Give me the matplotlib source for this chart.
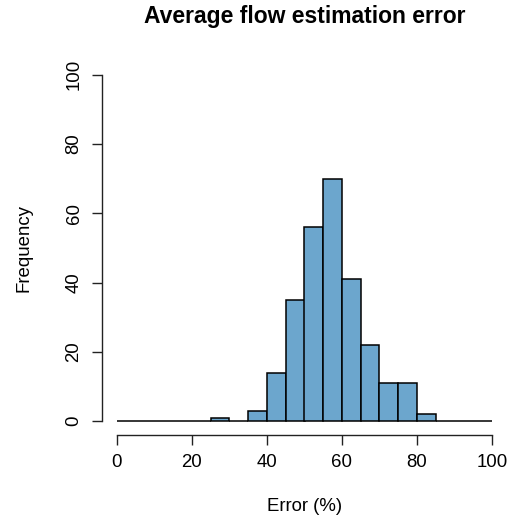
import numpy as np
from matplotlib import pyplot as plt

# histogram bins (5% wide) and counts
bin_edges = np.arange(0, 105, 5)
counts = [0, 0, 0, 0, 0, 1, 0, 3, 14, 35, 56, 70, 41, 22, 11, 11, 2, 0, 0, 0]
x_ticks = [0, 20, 40, 60, 80, 100]
y_ticks = [0, 20, 40, 60, 80, 100]

plt.rcParams['font.family'] = ['Liberation Sans', 'DejaVu Sans']

W, H = 514, 529
fig = plt.figure(figsize=(W / 100, H / 100), dpi=100)
ax = fig.add_axes([102 / W, (H - 435) / H, (507 - 102) / W, (435 - 61) / H])

ax.bar(bin_edges[:-1], counts, width=5, align='edge',
       color='#6CA6CD', edgecolor='black', linewidth=1.1)

ax.set_xlim(-4, 104)
ax.set_ylim(-4, 104)
for s in ['top', 'right']:
    ax.spines[s].set_visible(False)
ax.spines['left'].set_bounds(0, 100)
ax.spines['bottom'].set_bounds(0, 100)
for s in ['left', 'bottom']:
    ax.spines[s].set_linewidth(1.0)
    ax.spines[s].set_color('#222222')

ax.set_xticks(x_ticks)
ax.set_yticks(y_ticks)
ax.tick_params(length=7, width=1.0, color='#222222', labelsize=13.4, pad=7)
ax.tick_params(axis='y', labelrotation=90)
for lab in ax.get_yticklabels():
    lab.set_va('center')

ax.set_xlabel("Error (%)", fontsize=13.4, labelpad=19)
ax.set_ylabel("Frequency", fontsize=13.4, labelpad=24)
fig.text(0.5 * (102 + 507) / W, 1 - 16 / H, "Average flow estimation error",
         ha='center', va='center', fontsize=16.5, fontweight='bold')

fig.savefig("out.png", dpi=100)
